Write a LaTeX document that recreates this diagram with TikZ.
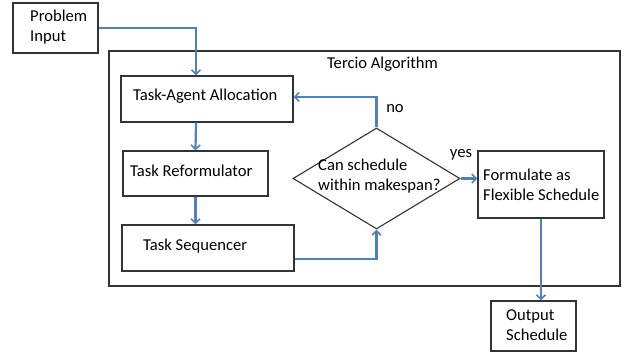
\documentclass[tikz,border=0pt]{standalone}
\usepackage{fontspec}
\setmainfont{Carlito}
\usetikzlibrary{shapes.geometric,arrows.meta,calc}
\definecolor{flowblue}{RGB}{79,129,189}
\begin{document}
\begin{tikzpicture}[x=1pt,y=-1pt,
  box/.style={draw=black!80,line width=1.1pt,inner sep=0pt},
  txt/.style={anchor=west,inner sep=0pt,align=left,font=\fontsize{16.6}{20}\selectfont},
  flow/.style={draw=flowblue,line width=2.2pt,-{Straight Barb[length=4.5pt,width=9pt,line width=1.6pt]}}]
\useasboundingbox (0,0) rectangle (627,358);
% outer algorithm frame
\node[box,minimum width=511pt,minimum height=235pt] (frame) at (364.5,168.5) {};
\node[txt,anchor=center] (title) at (382.5,64) {Tercio Algorithm};
% boxes
\node[box,minimum width=85pt,minimum height=50pt] (pin) at (55.5,28) {};
\node[txt] (pint) at (30,27) {Problem\\Input};
\node[box,minimum width=172pt,minimum height=46pt] (tla) at (207,99) {};
\node[txt] (tlat) at (133,96) {Task-Agent Allocation};
\node[box,minimum width=145pt,minimum height=45pt] (ref) at (195.5,173.5) {};
\node[txt] (reft) at (130,171) {Task Reformulator};
\node[box,minimum width=172pt,minimum height=46pt] (seq) at (208,248) {};
\node[txt] (seqt) at (143,246) {Task Sequencer};
\node[draw=black!80,line width=1.1pt,shape=diamond,inner sep=0pt,
      minimum width=167pt,minimum height=101pt] (dec) at (376.5,178.5) {};
\node[txt] (dect) at (318,176) {Can schedule\\within makespan?};
\node[box,minimum width=126pt,minimum height=67pt] (fs) at (541,184.5) {};
\node[txt] (fst) at (483,185) {Formulate as\\Flexible Schedule};
\node[box,minimum width=85pt,minimum height=50pt] (out) at (533.5,326) {};
\node[txt] (outt) at (506,325) {Output\\Schedule};
% connectors
\draw[flow] (pin.east) -| ([xshift=-11pt]tla.north);
\draw[flow] ([xshift=-11pt]tla.south) -- (ref.north);
\draw[flow] (ref.south) -- (ref.south |- seq.north);
\draw[flow] ([yshift=-11pt]seq.east) -| (dec.south);
\draw[flow] (dec.north) |- ([yshift=2pt]tla.east);
\draw[flow] (dec.east) -- (dec.east -| fs.west);
\draw[flow] (fs.south) -- (fs.south |- out.north);
% branch labels
\node[txt,anchor=center] (no) at (395,109) {no};
\node[txt,anchor=center] (yes) at (461,155) {yes};
\end{tikzpicture}
\end{document}
